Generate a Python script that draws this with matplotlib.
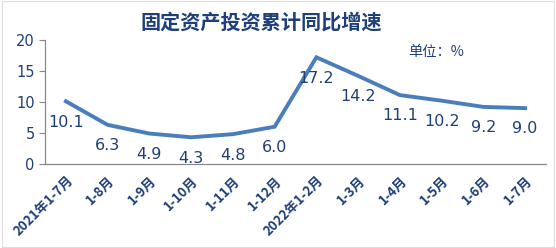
import matplotlib.pyplot as plt

plt.rcParams['font.family'] = ['Noto Sans CJK SC', 'DejaVu Sans']

# 月份与累计同比增速
months = ['2021年1-7月', '1-8月', '1-9月', '1-10月', '1-11月', '1-12月',
          '2022年1-2月', '1-3月', '1-4月', '1-5月', '1-6月', '1-7月']
growth = [10.1, 6.3, 4.9, 4.3, 4.8, 6.0, 17.2, 14.2, 11.1, 10.2, 9.2, 9.0]

dark = '#1F3F7A'
line_c = '#4A7EBB'

fig = plt.figure(figsize=(5.56, 2.48), dpi=100)
ax = fig.add_axes([0.081, 0.339, 0.901, 0.50])

x = list(range(len(months)))
ax.plot(x, growth, color=line_c, linewidth=2.8, solid_joinstyle='miter')
for xi, v in zip(x, growth):
    ax.annotate(f'{v:.1f}', (xi, v), xytext=(0, -15), textcoords='offset points',
                ha='center', va='center', fontsize=11.5, color=dark,
                family='DejaVu Sans')

ax.set_xlim(-0.5, len(months) - 0.5)
ax.set_ylim(0, 20)
ax.set_yticks([0, 5, 10, 15, 20])
ax.tick_params(axis='y', colors='#888888', labelcolor=dark, labelsize=10.5,
               length=4, width=0.8)
for lab in ax.get_yticklabels():
    lab.set_family('DejaVu Sans')
ax.set_xticks(x)
ax.set_xticklabels(months, rotation=45, ha='right', rotation_mode='anchor',
                   fontsize=9.5, fontweight='bold', color=dark)
ax.tick_params(axis='x', length=0, pad=7)

for s in ['top', 'right']:
    ax.spines[s].set_visible(False)
for s in ['left', 'bottom']:
    ax.spines[s].set_color('#888888')
    ax.spines[s].set_linewidth(0.9)

fig.text(0.47, 0.911, '固定资产投资累计同比增速', ha='center', va='center',
         fontsize=14.5, fontweight='bold', color=dark)
fig.text(0.734, 0.79, '单位：%', ha='left', va='center', fontsize=10.3,
         color=dark)

fig.patches.append(plt.Rectangle((0.004, 0.004), 0.992, 0.99, transform=fig.transFigure,
                                 fill=False, edgecolor='#DDDDDD', linewidth=0.8))

fig.savefig('out.png', dpi=100)
